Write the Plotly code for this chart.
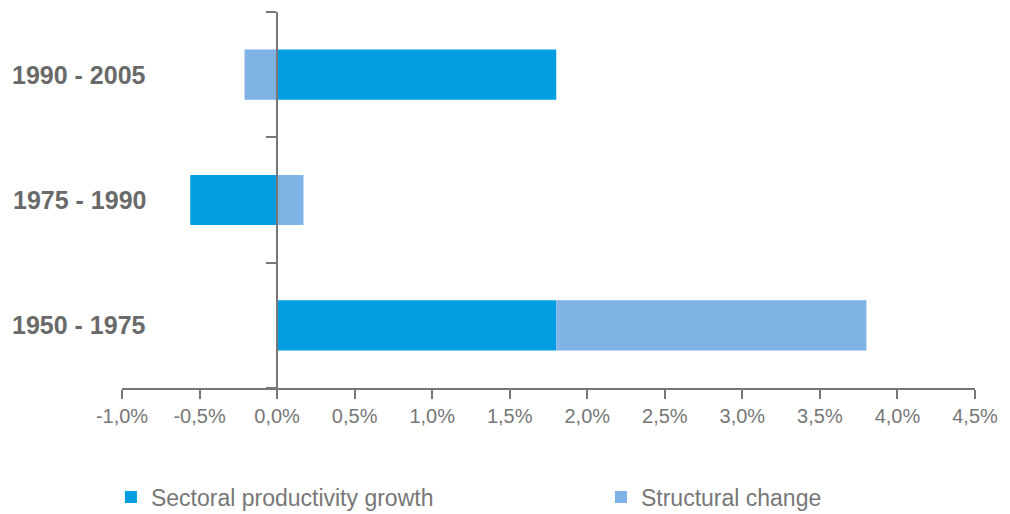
import plotly.graph_objects as go

periods = ["1950 - 1975", "1975 - 1990", "1990 - 2005"]
sectoral = [1.8, -0.56, 1.8]
structural = [2.0, 0.17, -0.21]
tick_vals = [-1.0, -0.5, 0.0, 0.5, 1.0, 1.5, 2.0, 2.5, 3.0, 3.5, 4.0, 4.5]
tick_text = [f"{v:.1f}%".replace(".", ",") for v in tick_vals]

x_min, x_max = -1.0, 4.5
font_family = "'Liberation Sans', Arial, sans-serif"

fig = go.Figure()
fig.add_trace(go.Bar(
    y=periods, x=sectoral, orientation="h", name="Sectoral productivity growth",
    marker=dict(color="#009EE0", line=dict(width=0)), width=0.4,
    legend="legend",
))
fig.add_trace(go.Bar(
    y=periods, x=structural, orientation="h", name="Structural change",
    marker=dict(color="#7FB2E5", line=dict(width=0)), width=0.4,
    legend="legend2",
))

for p in periods:
    fig.add_annotation(
        x=0.031, xref="paper", y=p, yref="y", text=f"<b>{p}</b>",
        showarrow=False, xanchor="right", yanchor="middle",
        font=dict(size=25, color="#6a6a6a", family=font_family),
    )

legend_style = dict(
    orientation="h", xanchor="left",
    yref="container", y=0.033, yanchor="middle",
    font=dict(size=23, color="#777777"), itemwidth=30,
    bgcolor="rgba(0,0,0,0)",
)

fig.update_layout(
    barmode="relative",
    width=1010, height=514,
    margin=dict(l=122, r=35, t=12, b=126),
    paper_bgcolor="white", plot_bgcolor="white",
    font=dict(family=font_family, color="#777777"),
    showlegend=True,
    legend=dict(x=-0.013, **legend_style),
    legend2=dict(x=0.5615, **legend_style),
    xaxis=dict(
        range=[x_min, x_max], tickvals=tick_vals, ticktext=tick_text,
        showgrid=False, zeroline=False, showline=True, linecolor="#777777",
        linewidth=1.5, ticks="outside", ticklen=9, tickcolor="#777777",
        tickwidth=1.5, tickfont=dict(size=20, color="#777777"),
    ),
    yaxis=dict(
        categoryorder="array", categoryarray=periods, range=[-0.5, 2.5],
        anchor="free", position=(0 - x_min) / (x_max - x_min),
        showgrid=False, zeroline=False, showline=True, linecolor="#777777",
        linewidth=1.5, ticks="outside", ticklen=10, tickcolor="#777777",
        tickwidth=1.5, tickson="boundaries", showticklabels=False,
    ),
)

fig.write_html("out.html")
